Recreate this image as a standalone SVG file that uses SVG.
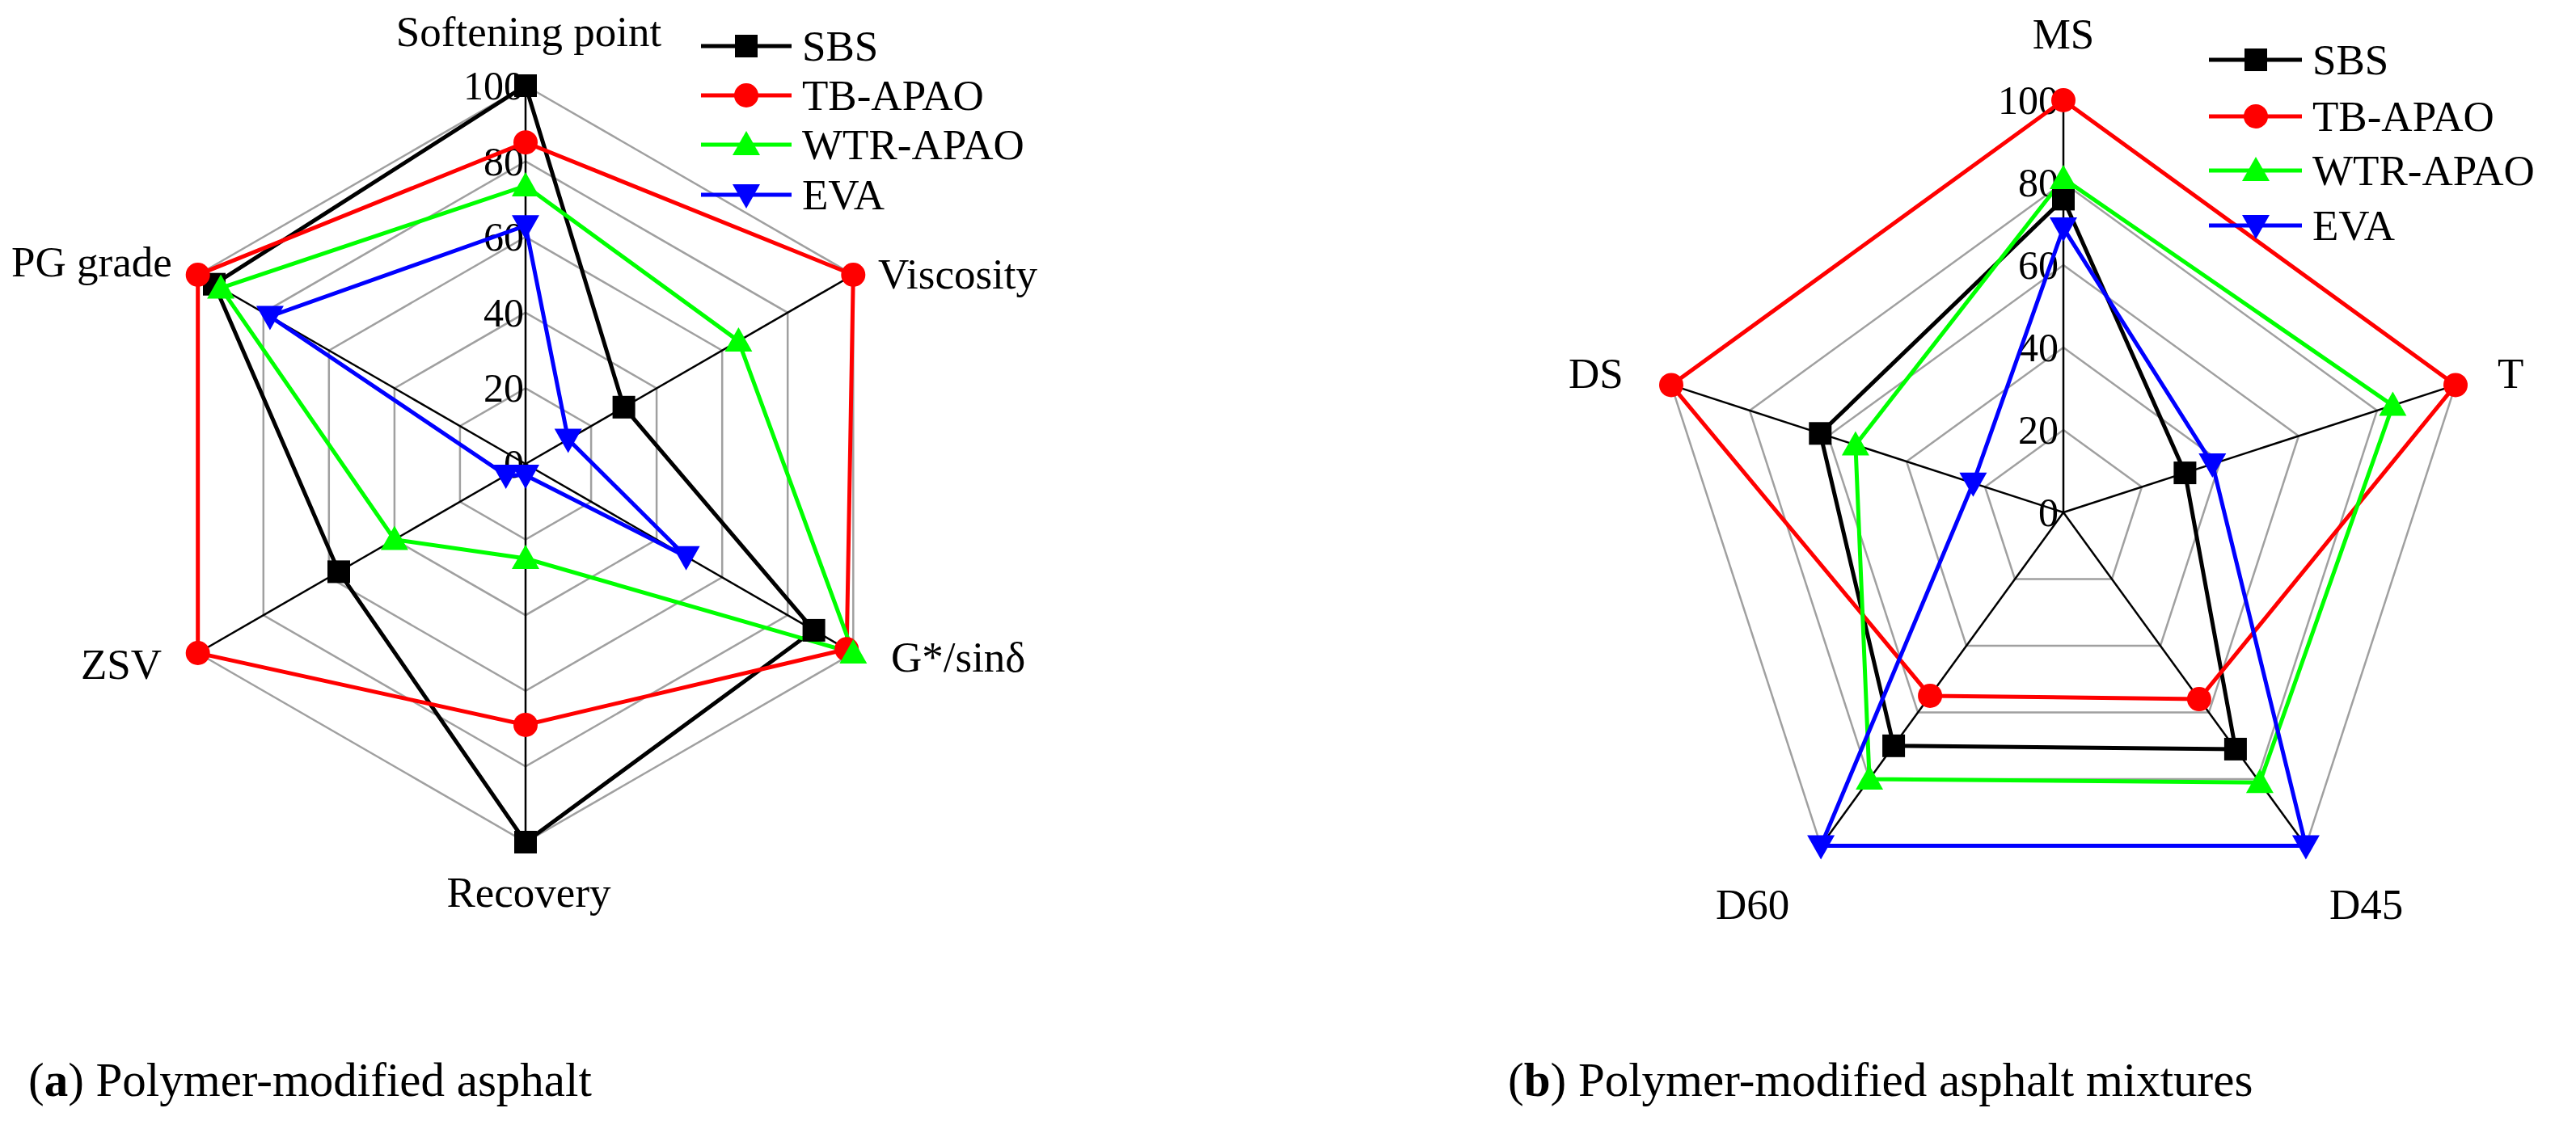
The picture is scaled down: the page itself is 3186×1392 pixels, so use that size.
<svg xmlns="http://www.w3.org/2000/svg" width="3186" height="1392" viewBox="0 0 3186 1392">
<style>
text{font-family:"Liberation Serif","Times New Roman",serif;fill:#000}
.lbl{font-size:53px}
.tick{font-size:50px;text-anchor:end}
.cap{font-size:59px}
.grid{fill:none;stroke:#a0a0a0;stroke-width:2.5}
.spoke{stroke:#000;stroke-width:2.5}
.d{fill:none;stroke-width:5;stroke-linejoin:miter}
.k{stroke:#000}.r{stroke:#f00}.g{stroke:#0f0}.b{stroke:#00f}
</style>
<defs>
<rect id="sq" x="-14" y="-14" width="28" height="28" fill="#000"/>
<circle id="ci" r="15" fill="#f00"/>
<polygon id="tu" points="0,-17 17,13 -17,13" fill="#0f0"/>
<polygon id="td" points="0,17 17,-13 -17,-13" fill="#00f"/>
</defs>
<rect width="3186" height="1392" fill="#fff"/>

<g id="chart-a-grid">
<polygon class="grid" points="650,480.4 731.1,527.2 731.1,620.8 650,667.6 568.9,620.8 568.9,527.2"/>
<polygon class="grid" points="650,386.8 812.1,480.4 812.1,667.6 650,761.2 487.9,667.6 487.9,480.4"/>
<polygon class="grid" points="650,293.2 893.2,433.6 893.2,714.4 650,854.8 406.8,714.4 406.8,433.6"/>
<polygon class="grid" points="650,199.6 974.2,386.8 974.2,761.2 650,948.4 325.8,761.2 325.8,386.8"/>
<polygon class="grid" points="650,106 1055.3,340 1055.3,808 650,1042 244.7,808 244.7,340"/>
<line class="spoke" x1="650" y1="574" x2="650" y2="106"/>
<line class="spoke" x1="650" y1="574" x2="1055.3" y2="340"/>
<line class="spoke" x1="650" y1="574" x2="1055.3" y2="808"/>
<line class="spoke" x1="650" y1="574" x2="650" y2="1042"/>
<line class="spoke" x1="650" y1="574" x2="244.7" y2="808"/>
<line class="spoke" x1="650" y1="574" x2="244.7" y2="340"/>
<text class="tick" x="648" y="591">0</text>
<text class="tick" x="648" y="497">20</text>
<text class="tick" x="648" y="404">40</text>
<text class="tick" x="648" y="310">60</text>
<text class="tick" x="648" y="217">80</text>
<text class="tick" x="648" y="123">100</text>
</g>
<g id="chart-a-labels">
<text class="lbl" x="654" y="57" text-anchor="middle">Softening point</text>
<text class="lbl" x="1086" y="357">Viscosity</text>
<text class="lbl" x="14" y="342">PG grade</text>
<text class="lbl" x="1102" y="831">G*/sinδ</text>
<text class="lbl" x="100" y="840">ZSV</text>
<text class="lbl" x="654" y="1122" text-anchor="middle">Recovery</text>
</g>
<g id="connectors-a">
<polygon class="d k" points="650,106 771.6,503.8 1006.6,779.9 650,1042 419,707.4 265,351.7"/>
<polygon class="d r" points="650,176.2 1055.3,340 1047.2,803.3 650,896.9 244.7,808 244.7,340"/>
<polygon class="d g" points="650,230 913.4,421.9 1055.3,808 650,691 487.9,667.6 273.1,356.4"/>
<polygon class="d b" points="650,279.2 702.7,543.6 848.6,688.7 650,588 625.7,588 333.9,391.5"/>
</g>
<g id="markers-a">
<use href="#sq" x="650" y="106"/><use href="#sq" x="771.6" y="503.8"/><use href="#sq" x="1006.6" y="779.9"/><use href="#sq" x="650" y="1042"/><use href="#sq" x="419" y="707.4"/><use href="#sq" x="265" y="351.7"/>
<use href="#ci" x="650" y="176.2"/><use href="#ci" x="1055.3" y="340"/><use href="#ci" x="1047.2" y="803.3"/><use href="#ci" x="650" y="896.9"/><use href="#ci" x="244.7" y="808"/><use href="#ci" x="244.7" y="340"/>
<use href="#tu" x="650" y="230"/><use href="#tu" x="913.4" y="421.9"/><use href="#tu" x="1055.3" y="808"/><use href="#tu" x="650" y="691"/><use href="#tu" x="487.9" y="667.6"/><use href="#tu" x="273.1" y="356.4"/>
<use href="#td" x="650" y="279.2"/><use href="#td" x="702.7" y="543.6"/><use href="#td" x="848.6" y="688.7"/><use href="#td" x="650" y="588"/><use href="#td" x="625.7" y="588"/><use href="#td" x="333.9" y="391.5"/>
</g>
<g id="legend-a">
<line class="d k" x1="867" y1="57" x2="979" y2="57"/><use href="#sq" x="923" y="57"/><text class="lbl" x="992" y="75">SBS</text>
<line class="d r" x1="867" y1="118" x2="979" y2="118"/><use href="#ci" x="923" y="118"/><text class="lbl" x="992" y="136">TB-APAO</text>
<line class="d g" x1="867" y1="179" x2="979" y2="179"/><use href="#tu" x="923" y="179"/><text class="lbl" x="992" y="197">WTR-APAO</text>
<line class="d b" x1="867" y1="241" x2="979" y2="241"/><use href="#td" x="923" y="241"/><text class="lbl" x="992" y="259">EVA</text>
</g>

<g id="chart-b-grid">
<polygon class="grid" points="2552,532 2649,602.5 2612,716.5 2492,716.5 2455,602.5"/>
<polygon class="grid" points="2552,430 2746,571 2672,799 2432,799 2358,571"/>
<polygon class="grid" points="2552,328 2843,539.4 2731.9,881.6 2372.1,881.6 2261,539.4"/>
<polygon class="grid" points="2552,226 2940,507.9 2791.9,964.1 2312.1,964.1 2164,507.9"/>
<polygon class="grid" points="2552,124 3037,476.4 2851.9,1046.6 2252.1,1046.6 2067,476.4"/>
<line class="spoke" x1="2552" y1="634" x2="2552" y2="124"/>
<line class="spoke" x1="2552" y1="634" x2="3037" y2="476.4"/>
<line class="spoke" x1="2552" y1="634" x2="2851.9" y2="1046.6"/>
<line class="spoke" x1="2552" y1="634" x2="2252.1" y2="1046.6"/>
<line class="spoke" x1="2552" y1="634" x2="2067" y2="476.4"/>
<text class="tick" x="2546" y="651">0</text>
<text class="tick" x="2546" y="549">20</text>
<text class="tick" x="2546" y="447">40</text>
<text class="tick" x="2546" y="345">60</text>
<text class="tick" x="2546" y="243">80</text>
<text class="tick" x="2546" y="141">100</text>
</g>
<g id="chart-b-labels">
<text class="lbl" x="2552" y="60" text-anchor="middle">MS</text>
<text class="lbl" x="3089" y="480">T</text>
<text class="lbl" x="1940" y="480">DS</text>
<text class="lbl" x="2122" y="1137">D60</text>
<text class="lbl" x="2881" y="1137">D45</text>
</g>
<g id="connectors-b">
<polygon class="d k" points="2552,246.4 2702.4,585.1 2764.9,926.9 2342.1,922.8 2251.3,536.3"/>
<polygon class="d r" points="2552,124 3037,476.4 2719.9,865.1 2387.1,860.9 2067,476.4"/>
<polygon class="d g" points="2552,220.9 2959.4,501.6 2794.9,968.2 2312.1,964.1 2294.9,550.5"/>
<polygon class="d b" points="2552,282.1 2736.3,574.1 2851.9,1046.6 2252.1,1046.6 2440.4,597.8"/>
</g>
<g id="markers-b">
<use href="#sq" x="2552" y="246.4"/><use href="#sq" x="2702.4" y="585.1"/><use href="#sq" x="2764.9" y="926.9"/><use href="#sq" x="2342.1" y="922.8"/><use href="#sq" x="2251.3" y="536.3"/>
<use href="#ci" x="2552" y="124"/><use href="#ci" x="3037" y="476.4"/><use href="#ci" x="2719.9" y="865.1"/><use href="#ci" x="2387.1" y="860.9"/><use href="#ci" x="2067" y="476.4"/>
<use href="#tu" x="2552" y="220.9"/><use href="#tu" x="2959.4" y="501.6"/><use href="#tu" x="2794.9" y="968.2"/><use href="#tu" x="2312.1" y="964.1"/><use href="#tu" x="2294.9" y="550.5"/>
<use href="#td" x="2552" y="282.1"/><use href="#td" x="2736.3" y="574.1"/><use href="#td" x="2851.9" y="1046.6"/><use href="#td" x="2252.1" y="1046.6"/><use href="#td" x="2440.4" y="597.8"/>
</g>
<g id="legend-b">
<line class="d k" x1="2732" y1="74" x2="2847" y2="74"/><use href="#sq" x="2790" y="74"/><text class="lbl" x="2860" y="92">SBS</text>
<line class="d r" x1="2732" y1="144" x2="2847" y2="144"/><use href="#ci" x="2790" y="144"/><text class="lbl" x="2860" y="162">TB-APAO</text>
<line class="d g" x1="2732" y1="211" x2="2847" y2="211"/><use href="#tu" x="2790" y="211"/><text class="lbl" x="2860" y="229">WTR-APAO</text>
<line class="d b" x1="2732" y1="279" x2="2847" y2="279"/><use href="#td" x="2790" y="279"/><text class="lbl" x="2860" y="297">EVA</text>
</g>

<g id="captions">
<text class="cap" x="35" y="1356">(<tspan font-weight="bold">a</tspan>) Polymer-modified asphalt</text>
<text class="cap" x="1865" y="1356">(<tspan font-weight="bold">b</tspan>) Polymer-modified asphalt mixtures</text>
</g>
</svg>
